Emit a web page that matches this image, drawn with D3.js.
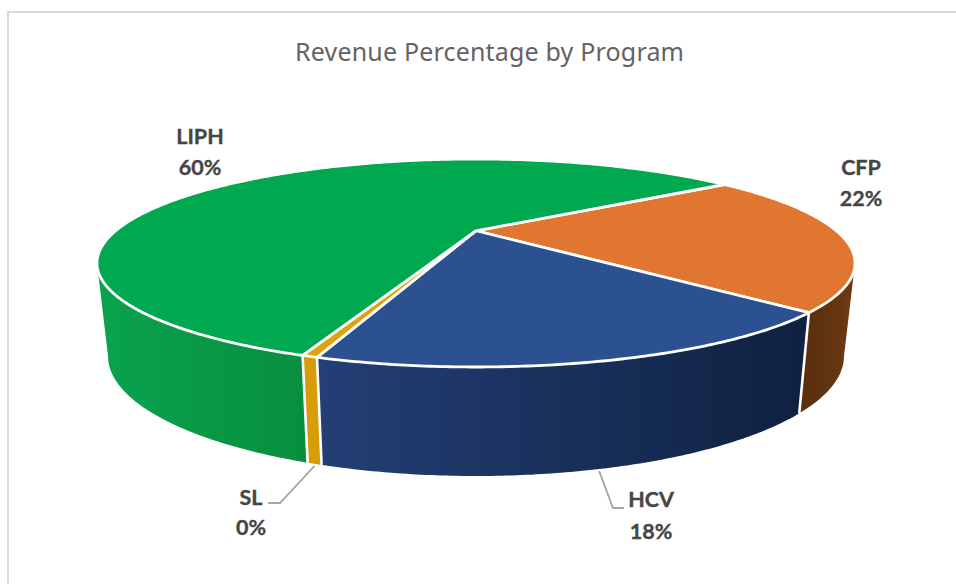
<!DOCTYPE html>
<html><head><meta charset="utf-8">
<style>html,body{margin:0;padding:0;background:#fff}svg{display:block}</style>
<script src="https://cdn.jsdelivr.net/npm/d3@7"></script></head>
<body><svg id="c" width="956" height="584"></svg>
<script>
const categories = ["CFP","HCV","SL","LIPH"];
const values = [21.9, 18, 0.5, 59.6];
const shownLabels = ["22%","18%","0%","60%"];
const topColors = ["#e0762f","#2c5190","#dea20c","#00a94f"];
const wallStart = ["#5c2f0f","#233f76","#d69c0a","#0aa34d"];
const wallEnd = ["#6d3a12","#0f2140","#d69c0a","#078f40"];
const title = "Revenue Percentage by Program";

const svg=d3.select("#c");
const top_={cx:476,cy:263,rx:379,ry:104};
const bot={cx:476,cy:356,rx:368,ry:120};
const k=-0.31;
const startDeg=54.5;
const pie=d3.pie().sort(null).startAngle(startDeg*Math.PI/180).endAngle((startDeg+360)*Math.PI/180)(values);

function norm(a){const X=Math.sin(a),Y=-Math.cos(a),d=1+k*Y;return [X*Math.sqrt(1-k*k)/d,(Y+k)/d];}
function proj(e,a){const n=norm(a);return [e.cx+e.rx*n[0],e.cy+e.ry*n[1]];}
function angles(a0,a1){const n=Math.max(2,Math.ceil((a1-a0)/0.01));return d3.range(n+1).map(i=>a0+(a1-a0)*i/n);}
const line=d3.line().curve(d3.curveLinear);

// frame
svg.append("rect").attr("x",8).attr("y",12).attr("width",960).attr("height",600)
  .attr("fill","#fff").attr("stroke","#d9d9d9").attr("stroke-width",2);

// gradients + walls
const defs=svg.append("defs");
const visMin=Math.acos(k), visMax=2*Math.PI-visMin;
const walls=pie.map((p,i)=>{
  const a0=Math.max(p.startAngle,visMin),a1=Math.min(p.endAngle,visMax);
  return a1>a0?{i,a0,a1}:null;}).filter(Boolean);
walls.forEach(w=>{
  const xs=angles(w.a0,w.a1).map(a=>proj(top_,a)[0]);
  const g=defs.append("linearGradient").attr("id","wg"+w.i).attr("gradientUnits","userSpaceOnUse")
    .attr("x1",d3.min(xs)).attr("x2",d3.max(xs)).attr("y1",0).attr("y2",0);
  g.append("stop").attr("offset",0).attr("stop-color",wallStart[w.i]);
  g.append("stop").attr("offset",1).attr("stop-color",wallEnd[w.i]);
  const as=angles(w.a0,w.a1);
  const pts=as.map(a=>proj(top_,a)).concat(as.slice().reverse().map(a=>proj(bot,a)));
  svg.append("path").attr("d",line(pts)+"Z").attr("fill",`url(#wg${w.i})`);
});
// vertical white seams between walls
walls.forEach(w=>{
  const a=w.a1;
  if(a>=visMax-1e-6) return;
  const t=proj(top_,a),b=proj(bot,a);
  svg.append("line").attr("x1",t[0]).attr("y1",t[1]).attr("x2",b[0]).attr("y2",b[1])
    .attr("stroke","#fff").attr("stroke-width",2.6);
});
// top faces
const apex=[top_.cx,top_.cy+top_.ry*k];
pie.forEach((p,i)=>{
  const pts=[apex].concat(angles(p.startAngle,p.endAngle).map(a=>proj(top_,a)));
  svg.append("path").attr("d",line(pts)+"Z").attr("fill",topColors[i])
    .attr("stroke","#fff").attr("stroke-width",2.8).attr("stroke-linejoin","round");
});
// title
svg.append("text").attr("x",489.5).attr("y",61).attr("text-anchor","middle")
  .attr("font-family","'Noto Sans', 'Open Sans', sans-serif").attr("font-size",25)
  .attr("fill","#636363").attr("textLength",389).text(title);

// labels
const labelPos=[[861,175,206],[651,507,539],[251,505,535],[200,144,175]];
categories.forEach((c,i)=>{
  const t=svg.append("g").attr("font-family","Lato, 'Open Sans', sans-serif").attr("font-weight",700)
    .attr("font-size",21.5).attr("fill","#454545").attr("stroke","#454545").attr("stroke-width",0.35)
    .attr("text-anchor","middle");
  t.append("text").attr("x",labelPos[i][0]).attr("y",labelPos[i][1]).text(c);
  t.append("text").attr("x",labelPos[i][0]).attr("y",labelPos[i][2]).text(shownLabels[i]);
});
// leaders
const mid=p=>(p.startAngle+p.endAngle)/2;
const leaders=[[1,[613,508],[624,508]],[2,[280,503],[268,503]]];
leaders.forEach(l=>{
  const s=proj(bot,mid(pie[l[0]]));
  svg.append("path").attr("d",line([[s[0],s[1]+2],l[1],l[2]])).attr("fill","none")
    .attr("stroke","#a6a6a6").attr("stroke-width",1.8);
});
</script></body></html>
